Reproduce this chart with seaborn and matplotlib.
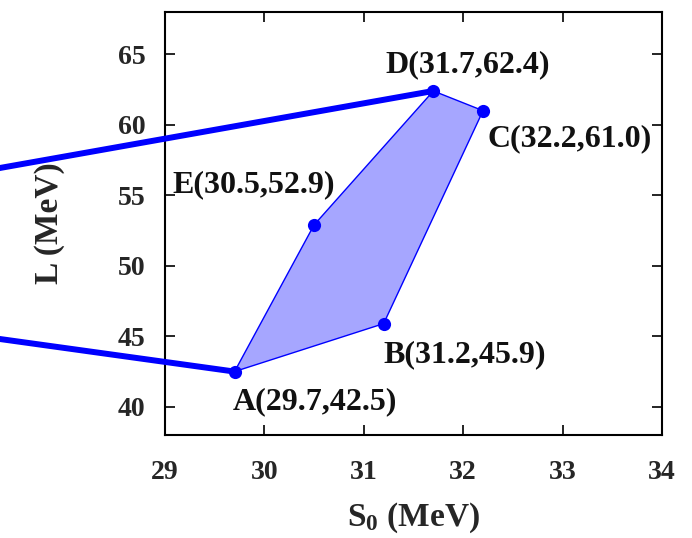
import matplotlib
matplotlib.use("Agg")
import matplotlib.pyplot as plt
import seaborn as sns
import pandas as pd

# Vertices of the allowed (S0, L) region
names = ["A", "B", "C", "D", "E"]
s0_vals = [29.7, 31.2, 32.2, 31.7, 30.5]
l_vals = [42.5, 45.9, 61.0, 62.4, 52.9]

# Guide lines leading off to the left from D and A
guide_upper_x = [26.0, 31.7]
guide_upper_y = [55.26, 62.4]
guide_lower_x = [26.0, 29.7]
guide_lower_y = [46.12, 42.5]

x_ticks = [29, 30, 31, 32, 33, 34]
y_ticks = [40, 45, 50, 55, 60, 65]

# label offsets (pixels) from each vertex: (dx, dy, ha, va)
label_offsets = {
    "A": (-2, -30, "left", "center"),
    "B": (0, -31, "left", "center"),
    "C": (4, -28, "left", "center"),
    "D": (-48, 26, "left", "center"),
    "E": (-142, 40, "left", "center"),
}

df = pd.DataFrame({"name": names, "S0": s0_vals, "L": l_vals})

sns.set_theme(style="ticks")
plt.rcParams["font.family"] = ["Liberation Serif", "DejaVu Serif"]
plt.rcParams["font.weight"] = "bold"
plt.rcParams["mathtext.fontset"] = "custom"
plt.rcParams["mathtext.rm"] = "Liberation Serif:bold"
plt.rcParams["mathtext.bf"] = "Liberation Serif:bold"
plt.rcParams["mathtext.it"] = "Liberation Serif:bold"

fig = plt.figure(figsize=(6.92, 5.38), dpi=100)
ax = fig.add_axes([0.2384, 0.1914, 0.9566 - 0.2384, 0.9777 - 0.1914])

blue = "#0000ff"

# shaded region
ax.fill(df["S0"], df["L"], facecolor="#a6a6ff", edgecolor=blue, linewidth=1.0, zorder=2)

# guide lines (extend beyond the axes)
ax.plot(guide_upper_x, guide_upper_y, color=blue, linewidth=4.3, clip_on=False,
        solid_capstyle="butt", zorder=3)
ax.plot(guide_lower_x, guide_lower_y, color=blue, linewidth=4.3, clip_on=False,
        solid_capstyle="butt", zorder=3)

sns.scatterplot(data=df, x="S0", y="L", color=blue, s=90, edgecolor=blue,
                linewidth=0, ax=ax, zorder=4, clip_on=False)

for n, x, y in zip(names, s0_vals, l_vals):
    dx, dy, ha, va = label_offsets[n]
    ax.annotate(f"{n}({x:.1f},{y:.1f})", xy=(x, y), xytext=(dx, dy),
                textcoords="offset pixels", ha=ha, va=va,
                fontsize=23, fontweight="bold", color="#111111")

ax.set_xlim(29, 34)
ax.set_ylim(38, 68)
ax.set_xticks(x_ticks)
ax.set_yticks(y_ticks)
ax.set_xticklabels([str(t) for t in x_ticks])
ax.set_yticklabels([str(t) for t in y_ticks])

ax.tick_params(axis="both", direction="in", length=7, width=1.2, labelsize=20,
               top=True, right=True, color="black")
ax.tick_params(axis="x", pad=18)
ax.tick_params(axis="y", pad=14)
for lab in ax.get_xticklabels() + ax.get_yticklabels():
    lab.set_fontweight("bold")

for sp in ax.spines.values():
    sp.set_linewidth(1.5)
    sp.set_color("black")
    sp.set_visible(True)

ax.set_xlabel(r"$\mathbf{S_0}$ (MeV)", fontsize=24, fontweight="bold", labelpad=11)
ax.set_ylabel("L (MeV)", fontsize=24, fontweight="bold", labelpad=38)

fig.savefig("out.png", dpi=100)
